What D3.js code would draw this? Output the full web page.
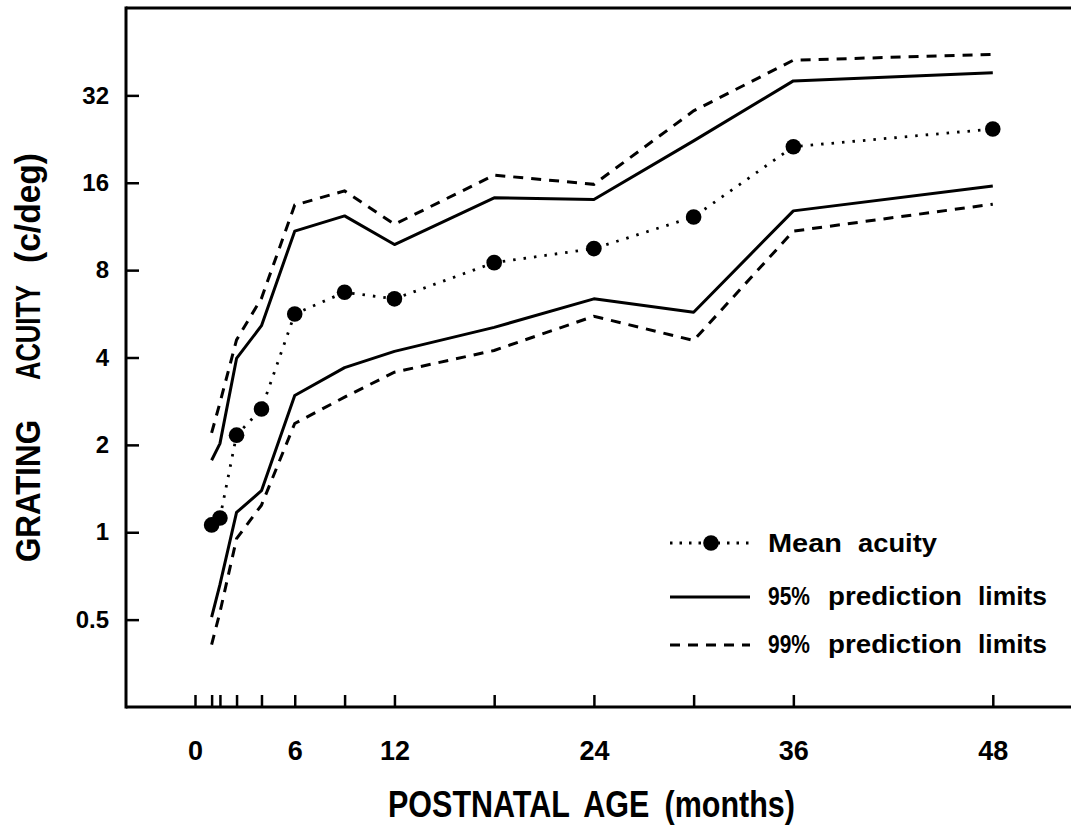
<!DOCTYPE html>
<html>
<head>
<meta charset="utf-8">
<script src="https://cdn.jsdelivr.net/npm/d3@7"></script>
<style>
  body { margin: 0; background: #fff; }
  svg { display: block; }
</style>
</head>
<body>
<svg id="chart" width="1071" height="825"></svg>
<script>
// Ages (months) at which acuity was summarised
const meanAges = [1, 1.5, 2.5, 4, 6, 9, 12, 18, 24, 30, 36, 48];
const meanAcuity = [1.06, 1.12, 2.16, 2.66, 5.65, 6.71, 6.37, 8.49, 9.49, 12.2, 21.3, 24.5];

const limitAges = [1, 1.5, 2.5, 4, 6, 9, 12, 18, 24, 30, 36, 48];
const upper95 = [1.77, 2.02, 3.97, 5.15, 10.9, 12.3, 9.8, 14.2, 14.0, 22.3, 35.9, 38.3];
const lower95 = [0.51, 0.66, 1.17, 1.39, 2.96, 3.69, 4.2, 5.08, 6.37, 5.73, 12.8, 15.6];
const upper99 = [2.2, 2.79, 4.6, 6.4, 13.4, 15.0, 11.5, 17.0, 15.8, 28.3, 42.3, 44.3];
const lower99 = [0.41, 0.53, 0.95, 1.24, 2.37, 2.92, 3.56, 4.23, 5.55, 4.58, 10.9, 13.5];

const xTickValues = [0, 1, 1.5, 2.5, 4, 6, 9, 12, 18, 24, 30, 36, 48];
const xTickLabels = [0, 6, 12, 24, 36, 48];
const yTickValues = [0.5, 1, 2, 4, 8, 16, 32];
const yTickLabels = ["0.5", "1", "2", "4", "8", "16", "32"];
const legendLabels = ["Mean acuity", "95% prediction limits", "99% prediction limits"];
const xTitle = "POSTNATAL AGE (months)";
const yTitle = "GRATING ACUITY (c/deg)";

const svg = d3.select("#chart");
const tickFont = "'Liberation Sans', Arial, sans-serif";
const titleFont = "'Liberation Sans Narrow', 'Liberation Sans', sans-serif";

// Frame extents
const frameLeft = 126, frameRight = 1071, frameTop = 8, frameBottom = 707;

const x = d3.scaleLinear().domain([0, 48]).range([195, 992.8]);
const y = d3.scaleLog().base(2).domain([0.25, 64]).range([frameBottom, frameTop]);

// Axis frame: left, top and bottom rules
const frame = svg.append("g").attr("stroke", "#000").attr("stroke-width", 3).attr("fill", "none");
frame.append("line").attr("x1", frameLeft).attr("x2", frameLeft).attr("y1", frameTop - 1.5).attr("y2", frameBottom + 1.5);
frame.append("line").attr("x1", frameLeft).attr("x2", frameRight).attr("y1", frameTop).attr("y2", frameTop);
frame.append("line").attr("x1", frameLeft).attr("x2", frameRight).attr("y1", frameBottom).attr("y2", frameBottom);

// Y axis (ticks point inward)
const yAxis = d3.axisLeft(y)
  .tickValues(yTickValues)
  .tickSize(-13)
  .tickPadding(17)
  .tickFormat((d, i) => yTickLabels[i]);
const gy = svg.append("g").attr("transform", `translate(${frameLeft},0)`).call(yAxis);
gy.select(".domain").remove();
gy.selectAll(".tick line").attr("stroke", "#000").attr("stroke-width", 2.5);
gy.selectAll(".tick text")
  .attr("fill", "#000")
  .style("font-family", tickFont)
  .style("font-weight", "bold")
  .style("font-size", "24px");

// X axis (ticks point inward, labels only at selected ages)
const xAxis = d3.axisBottom(x)
  .tickValues(xTickValues)
  .tickSize(-12)
  .tickPadding(34)
  .tickFormat(d => xTickLabels.includes(d) ? String(d) : "");
const gx = svg.append("g").attr("transform", `translate(0,${frameBottom})`).call(xAxis);
gx.select(".domain").remove();
gx.selectAll(".tick line").attr("stroke", "#000").attr("stroke-width", 2.5);
gx.selectAll(".tick text")
  .attr("fill", "#000")
  .style("font-family", tickFont)
  .style("font-weight", "bold")
  .style("font-size", "27px");

// Lay a label out word by word, each word fitted to its own span
function spacedText(parent, words, starts, widths, baseline, size) {
  const g = parent.append("g")
    .style("font-family", titleFont)
    .style("font-weight", "bold")
    .style("font-size", size + "px");
  words.forEach((w, i) => {
    g.append("text")
      .attr("x", starts[i])
      .attr("y", baseline)
      .attr("textLength", widths[i])
      .attr("lengthAdjust", "spacingAndGlyphs")
      .text(w);
  });
  return g;
}

// Axis titles
svg.append("text")
  .attr("x", 388).attr("y", 817)
  .attr("textLength", 407).attr("lengthAdjust", "spacingAndGlyphs")
  .style("font-family", titleFont).style("font-weight", "bold").style("font-size", "37px")
  .style("word-spacing", "8px")
  .text(xTitle);

const yTitleGroup = svg.append("g").attr("transform", "translate(40,0) rotate(-90)");
spacedText(yTitleGroup, yTitle.split(" "), [-562, -380, -263], [142, 95, 110], 0, 35);

// Series
const line = d3.line().x(d => x(d[0])).y(d => y(d[1]));
const pairs = (ages, vals) => ages.map((a, i) => [a, vals[i]]);

const plot = svg.append("g").attr("fill", "none").attr("stroke", "#000");

[upper99, lower99].forEach(vals => {
  plot.append("path").attr("d", line(pairs(limitAges, vals)))
    .attr("stroke-width", 3).attr("stroke-dasharray", "10 8");
});
[upper95, lower95].forEach(vals => {
  plot.append("path").attr("d", line(pairs(limitAges, vals)))
    .attr("stroke-width", 3).attr("stroke-linejoin", "round");
});
plot.append("path").attr("d", line(pairs(meanAges, meanAcuity)))
  .attr("stroke-width", 2.8).attr("stroke-dasharray", "2.5 8");

svg.append("g").selectAll("circle")
  .data(pairs(meanAges, meanAcuity))
  .join("circle")
  .attr("cx", d => x(d[0])).attr("cy", d => y(d[1]))
  .attr("r", 7.8).attr("fill", "#000");

// Legend
const lg = svg.append("g");
const rowY = [543, 597, 645];
const rowBaseline = [552, 605, 653];
const sampleX0 = 670, sampleX1 = 750;
lg.append("line").attr("x1", sampleX0).attr("x2", sampleX1).attr("y1", rowY[0]).attr("y2", rowY[0])
  .attr("stroke", "#000").attr("stroke-width", 2.8).attr("stroke-dasharray", "2.5 7");
lg.append("circle").attr("cx", 711).attr("cy", rowY[0]).attr("r", 7.8).attr("fill", "#000");
lg.append("line").attr("x1", sampleX0).attr("x2", sampleX1).attr("y1", rowY[1]).attr("y2", rowY[1])
  .attr("stroke", "#000").attr("stroke-width", 3);
lg.append("line").attr("x1", sampleX0).attr("x2", sampleX1).attr("y1", rowY[2]).attr("y2", rowY[2])
  .attr("stroke", "#000").attr("stroke-width", 3).attr("stroke-dasharray", "10 8");

const legendWordStarts = [[768, 858], [768, 828, 978], [768, 828, 978]];
const legendWordWidths = [[74, 79], [42, 134, 69], [42, 134, 69]];
legendLabels.forEach((label, i) => {
  spacedText(lg, label.split(" "), legendWordStarts[i], legendWordWidths[i], rowBaseline[i], 25);
});
</script>
</body>
</html>
